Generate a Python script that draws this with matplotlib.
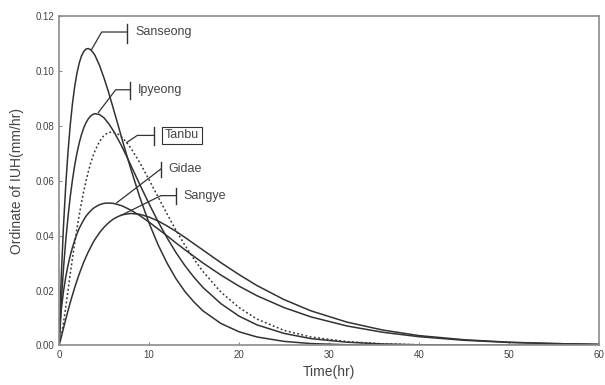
import matplotlib
matplotlib.use("Agg")
import matplotlib.pyplot as plt

plt.rcParams['font.family'] = ['Liberation Sans', 'DejaVu Sans']

# cas [hr]
time_hr = [0, 0.25, 0.5, 0.75, 1, 1.25, 1.5, 1.75, 2, 2.25, 2.5, 2.75, 3, 3.25, 3.5, 3.75,
           4, 4.5, 5, 5.5, 6, 6.5, 7, 7.5, 8, 9, 10, 11, 12, 13, 14, 15, 16, 18, 20,
           22, 25, 28, 32, 36, 40, 45, 50, 55, 60]

# ordinata IUH [mm/hr]
sanseong = [0, 0.0249, 0.0434, 0.0582, 0.0703, 0.0802, 0.0880, 0.0943, 0.0991, 0.1027,
            0.1053, 0.1069, 0.1078, 0.1080, 0.1076, 0.1067, 0.1055, 0.1019, 0.0973, 0.0922,
            0.0866, 0.0809, 0.0751, 0.0695, 0.0640, 0.0537, 0.0446, 0.0367, 0.0300, 0.0243,
            0.0196, 0.0158, 0.0126, 0.0080, 0.0050, 0.0031, 0.0015, 0.0007, 0.00026, 0.0001,
            0.00004, 0.00001, 0, 0, 0]
ipyeong = [0, 0.0158, 0.0280, 0.0381, 0.0467, 0.0541, 0.0603, 0.0656, 0.0700, 0.0737,
           0.0767, 0.0791, 0.0810, 0.0824, 0.0834, 0.0840, 0.0843, 0.0840, 0.0828, 0.0808,
           0.0783, 0.0754, 0.0723, 0.0689, 0.0654, 0.0584, 0.0516, 0.0451, 0.0392, 0.0338,
           0.0290, 0.0248, 0.0211, 0.0152, 0.0107, 0.0075, 0.0044, 0.0025, 0.0012, 0.00055,
           0.00025, 0.00009, 0.00003, 0.00001, 0]
tanbu = [0, 0.0032, 0.0083, 0.0140, 0.0200, 0.0260, 0.0318, 0.0373, 0.0426, 0.0475,
         0.0520, 0.0561, 0.0598, 0.0631, 0.0661, 0.0686, 0.0708, 0.0742, 0.0764, 0.0775,
         0.0776, 0.0770, 0.0757, 0.0739, 0.0717, 0.0664, 0.0603, 0.0541, 0.0479, 0.0419,
         0.0364, 0.0314, 0.0269, 0.0194, 0.0138, 0.0096, 0.0055, 0.0031, 0.0014, 0.0006,
         0.00026, 0.00009, 0.00003, 0.00001, 0]
gidae = [0, 0.0129, 0.0197, 0.0249, 0.0291, 0.0327, 0.0357, 0.0383, 0.0406, 0.0426,
         0.0442, 0.0457, 0.0470, 0.0480, 0.0489, 0.0497, 0.0503, 0.0512, 0.0517, 0.0518,
         0.0517, 0.0513, 0.0508, 0.0500, 0.0492, 0.0472, 0.0449, 0.0424, 0.0399, 0.0373,
         0.0348, 0.0324, 0.0300, 0.0256, 0.0216, 0.0181, 0.0138, 0.0104, 0.0071, 0.0048,
         0.0032, 0.0019, 0.0011, 0.0007, 0.0004]
sangye = [0, 0.0030, 0.0063, 0.0095, 0.0126, 0.0156, 0.0184, 0.0211, 0.0236, 0.0260,
          0.0282, 0.0303, 0.0322, 0.0340, 0.0356, 0.0372, 0.0386, 0.0410, 0.0430, 0.0446,
          0.0459, 0.0468, 0.0475, 0.0478, 0.0480, 0.0477, 0.0467, 0.0453, 0.0435, 0.0415,
          0.0393, 0.0370, 0.0347, 0.0301, 0.0258, 0.0218, 0.0167, 0.0126, 0.0085, 0.0056,
          0.0036, 0.0021, 0.0012, 0.0007, 0.0004]

line_col = '#333333'
axis_col = '#8c8c8c'
text_col = '#444444'

fig = plt.figure(figsize=(6.05, 3.85), dpi=100)
ax = fig.add_axes([0.0975, 0.1026, 0.8925, 0.8571])

for y in [sanseong, ipyeong, gidae, sangye]:
    ax.plot(time_hr, y, color=line_col, linewidth=1.1, solid_joinstyle='round')
ax.plot(time_hr, tanbu, color=line_col, linewidth=1.1, linestyle=(0, (1.2, 1.6)))


# popisky krivek: odkazova cara + koncova carka + text
def callout(pts, bar_lo, bar_hi, label, box=False):
    xs = [p[0] for p in pts]
    ys = [p[1] for p in pts]
    ax.plot(xs, ys, color=line_col, linewidth=0.9)
    ax.plot([xs[-1], xs[-1]], [bar_lo, bar_hi], color=line_col, linewidth=1.0)
    tx = xs[-1] + 0.85
    ty = ys[-1]
    if box:
        ax.text(tx + 0.3, ty, label, fontsize=9, color=text_col, va='center', ha='left',
                bbox=dict(boxstyle='square,pad=0.22', fc='white', ec=line_col, lw=0.8))
    else:
        ax.text(tx, ty, label, fontsize=9, color=text_col, va='center', ha='left')


callout([(3.6, 0.1075), (4.74, 0.1140), (7.59, 0.1140)], 0.1100, 0.1169, 'Sanseong')
callout([(4.37, 0.0847), (6.3, 0.0930), (7.89, 0.0930)], 0.0897, 0.0959, 'Ipyeong')
callout([(7.52, 0.0738), (8.7, 0.0764), (10.59, 0.0764)], 0.0730, 0.0793, 'Tanbu', box=True)
callout([(6.41, 0.0519), (11.33, 0.0642)], 0.0614, 0.0669, 'Gidae')
callout([(6.89, 0.0473), (11.33, 0.0545), (13.0, 0.0545)], 0.0515, 0.0573, 'Sangye')

ax.set_xlim(0, 60)
ax.set_ylim(0, 0.12)
ax.set_xticks(range(0, 61, 10))
ax.set_yticks([0, 0.02, 0.04, 0.06, 0.08, 0.10, 0.12])
ax.set_yticklabels(['0.00', '0.02', '0.04', '0.06', '0.08', '0.10', '0.12'])
ax.tick_params(direction='in', length=2.5, width=0.8, colors=axis_col,
               labelcolor=text_col, labelsize=7)
for s in ax.spines.values():
    s.set_color(axis_col)
    s.set_linewidth(1.2)

ax.set_xlabel('Time(hr)', fontsize=10, color=text_col, labelpad=3)
ax.set_ylabel('Ordinate of IUH(mm/hr)', fontsize=10, color=text_col, labelpad=8)

fig.savefig('out.png', dpi=100)
